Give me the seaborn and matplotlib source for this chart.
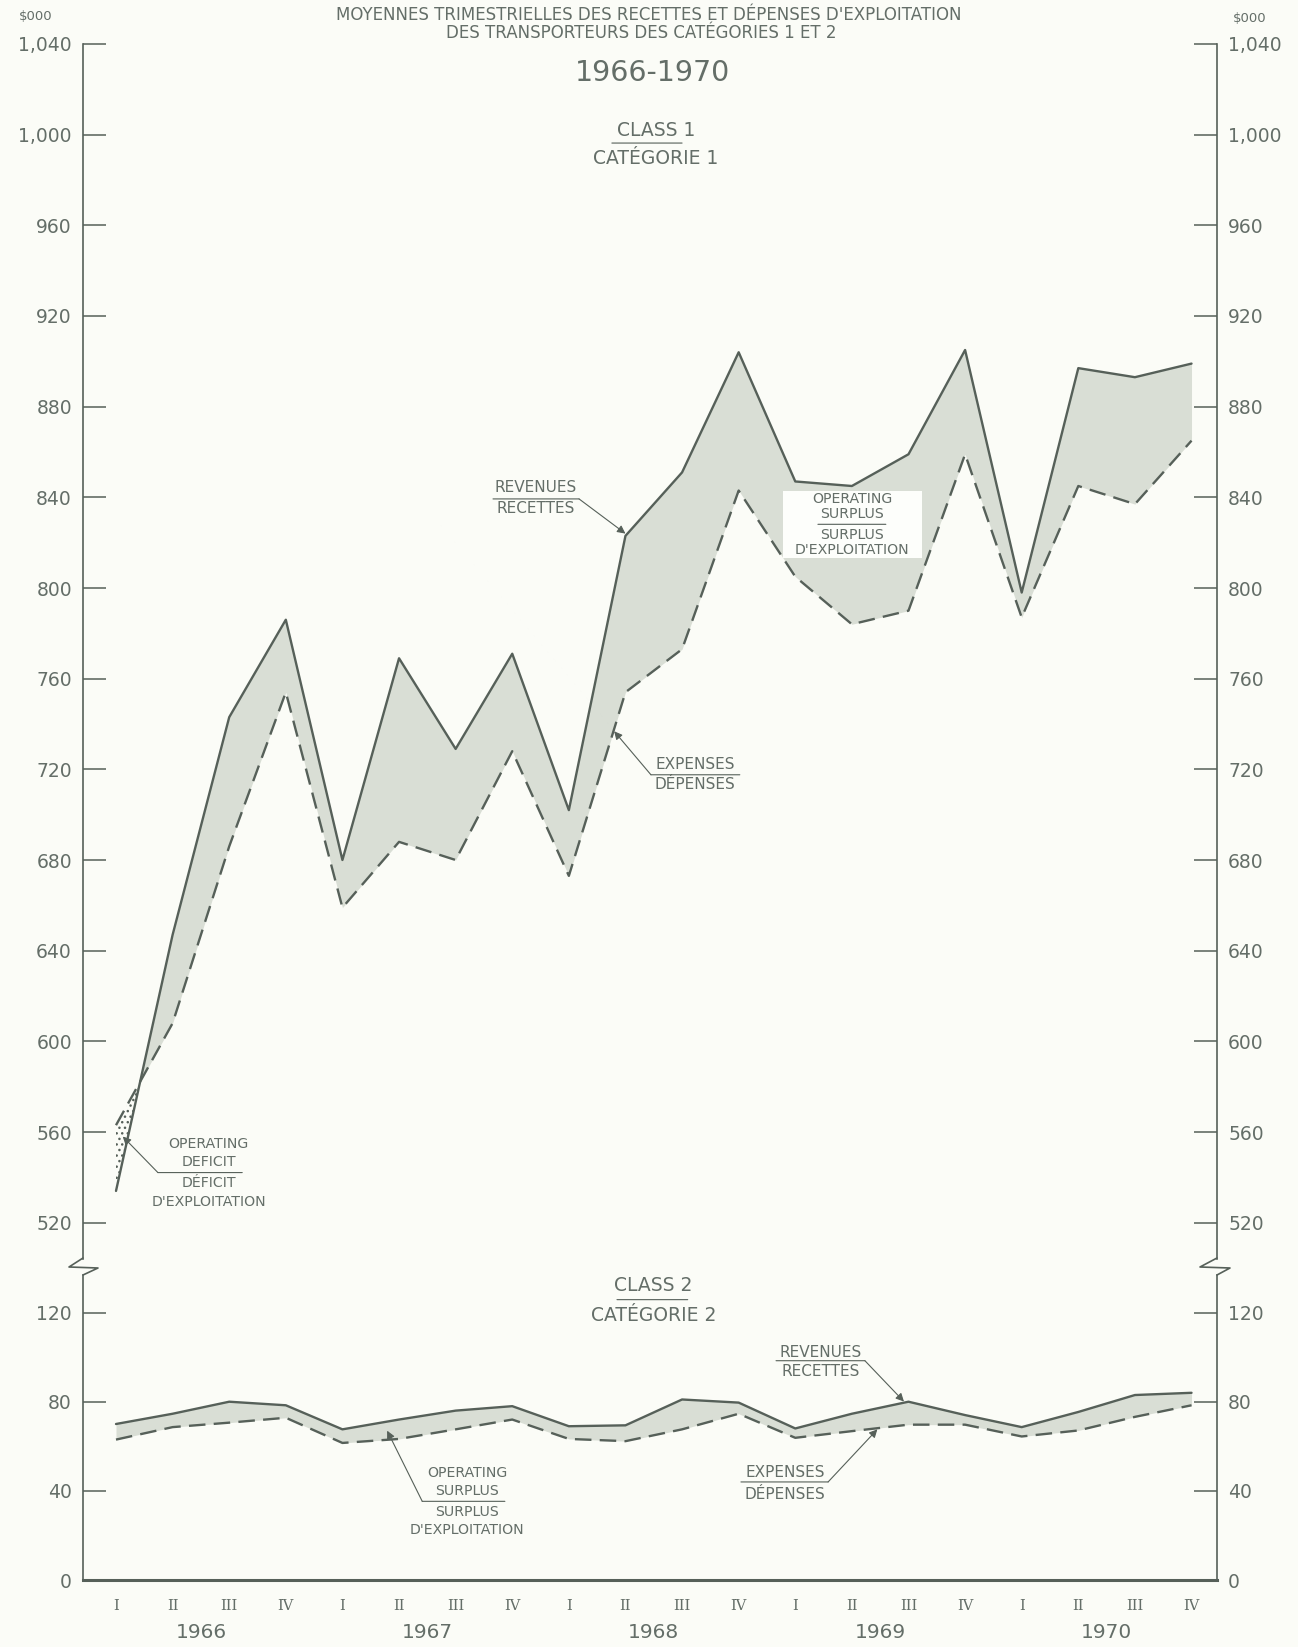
import numpy as np
import pandas as pd
import seaborn as sns
import matplotlib.pyplot as plt
from matplotlib.lines import Line2D
from matplotlib.patches import Rectangle

# quarterly averages, $000
quarters = ['I', 'II', 'III', 'IV'] * 5
years = ['1966', '1967', '1968', '1969', '1970']

class1_revenues = [534, 647, 743, 786, 680, 769, 729, 771, 702, 823,
                   851, 904, 847, 845, 859, 905, 798, 897, 893, 899]
class1_expenses = [563, 608, 686, 754, 659, 688, 680, 728, 673, 754,
                   773, 843, 805, 784, 790, 859, 787, 845, 837, 865]

class2_revenues = [70, 74.6, 80, 78.4, 67.6, 72, 76, 78, 69, 69.4,
                   81, 79.6, 68, 74.6, 80, 74, 68.6, 75.4, 83, 84]
class2_expenses = [63, 68.6, 70.6, 72.8, 61.5, 63.3, 67.6, 72, 63.3, 62.3,
                   67.6, 74.6, 63.8, 66.8, 69.7, 69.7, 64.4, 67.1, 73.2, 78.4]

upper_ticks = list(range(520, 1041, 40))
lower_ticks = [0, 40, 80, 120]

df = pd.DataFrame({
    'q': np.arange(len(quarters)),
    'rev1': class1_revenues, 'exp1': class1_expenses,
    'rev2': class2_revenues, 'exp2': class2_expenses,
})

BG = '#fbfcf7'
INK = '#566059'
TXT = '#646e68'
FILL = '#d9ded5'

sns.set_style("white")
plt.rcParams['font.family'] = ['DejaVu Sans']
plt.rcParams['axes.facecolor'] = BG
plt.rcParams['figure.facecolor'] = BG

W, H = 1298, 1647
fig = plt.figure(figsize=(W / 100, H / 100), dpi=100)

L, R = 83 / W, (1217 - 83) / W
ax1 = fig.add_axes([L, (H - 1268) / H, R, (1268 - 44) / H])
ax2 = fig.add_axes([L, (H - 1580) / H, R, (1580 - 1268) / H])

dash = (0, (7, 3.5))


def draw_band(ax, rev, exp):
    ax.fill_between(df['q'], df[rev], df[exp], where=df[rev] >= df[exp],
                    interpolate=True, color=FILL, lw=0)
    ax.fill_between(df['q'], df[rev], df[exp], where=df[rev] < df[exp],
                    interpolate=True, facecolor=BG, edgecolor=INK, hatch='...', lw=0)
    sns.lineplot(data=df, x='q', y=rev, ax=ax, color=INK, lw=1.7)
    sns.lineplot(data=df, x='q', y=exp, ax=ax, color=INK, lw=1.7, linestyle=dash)


draw_band(ax1, 'rev1', 'exp1')
draw_band(ax2, 'rev2', 'exp2')

for ax, lo, hi, ticks, bounds in [(ax1, 500, 1040, upper_ticks, (504, 1040)),
                                  (ax2, 0, 140, lower_ticks, (0, 137))]:
    ax.set_xlim(-0.583, 19.45)
    ax.set_ylim(lo, hi)
    ax.set_xlabel('')
    ax.set_ylabel('')
    ax.set_yticks(ticks)
    ax.set_yticklabels(['{:,}'.format(t) for t in ticks])
    ax.tick_params(axis='y', direction='in', length=16.5, width=1.1, color=INK,
                   left=True, right=True, labelleft=True, labelright=True,
                   labelcolor=TXT, labelsize=13.5, pad=8)
    ax.spines['top'].set_visible(False)
    for s in ['left', 'right']:
        ax.spines[s].set_color(INK)
        ax.spines[s].set_linewidth(1.2)
        ax.spines[s].set_bounds(*bounds)

ax1.spines['bottom'].set_visible(False)
ax1.set_xticks([])
ax2.spines['bottom'].set_color(INK)
ax2.spines['bottom'].set_linewidth(2.2)

# boundary ticks: small between quarters, tall between years
bounds_all = np.arange(0.5, 19, 1.0)
year_bounds = bounds_all[3::4]
ax2.set_xticks(year_bounds)
ax2.set_xticks([b for b in bounds_all if b not in year_bounds], minor=True)
ax2.tick_params(axis='x', which='major', direction='in', length=16.5, width=1.1,
                color=INK, labelbottom=False)
ax2.tick_params(axis='x', which='minor', direction='in', length=10, width=1.1,
                color=INK, labelbottom=False)

sec_q = ax2.secondary_xaxis('bottom')
sec_q.set_xticks(df['q'])
sec_q.set_xticklabels(quarters, family='DejaVu Serif', fontsize=10.5, color=TXT)
sec_q.tick_params(length=0, pad=14)
sec_q.spines['bottom'].set_visible(False)

sec_y = ax2.secondary_xaxis('bottom')
sec_y.set_xticks(np.arange(1.5, 20, 4))
sec_y.set_xticklabels(years, fontsize=14.5, color=TXT)
sec_y.tick_params(length=0, pad=31)
sec_y.spines['bottom'].set_visible(False)

# axis break marks
for pts in ([(83, 1258), (69, 1267), (98, 1268), (83, 1275)],
            [(1217, 1258), (1200, 1267), (1230, 1268), (1217, 1275)]):
    fig.add_artist(Line2D([p[0] / W for p in pts], [1 - p[1] / H for p in pts],
                          color=INK, lw=1.2))

# titles
fig.text(649 / W, 1 - 15 / H, "MOYENNES TRIMESTRIELLES DES RECETTES ET DÉPENSES D'EXPLOITATION",
         ha='center', va='center', fontsize=12, color=TXT)
fig.text(641 / W, 1 - 33 / H, "DES TRANSPORTEURS DES CATÉGORIES 1 ET 2",
         ha='center', va='center', fontsize=12, color=TXT)
fig.text(653 / W, 1 - 73 / H, "1966-1970", ha='center', va='center', fontsize=20.5, color=TXT)
fig.text(36 / W, 1 - 16 / H, "\\$000", ha='center', va='center', fontsize=9.5, color=TXT)
fig.text(1250 / W, 1 - 18 / H, "\\$000", ha='center', va='center', fontsize=9.5, color=TXT)

tk = dict(ha='center', va='center', fontsize=11, color=TXT)
tk_small = dict(ha='center', va='center', fontsize=10.2, color=TXT)
line = dict(arrowstyle='-', color=INK, lw=0.8, shrinkA=0, shrinkB=0)
arrow = dict(arrowstyle='-|>', color=INK, lw=0.8, shrinkA=0, shrinkB=0, mutation_scale=12)


def interp(col, x):
    return float(np.interp(x, df['q'], df[col]))


# class 1 labels
ax1.text(9.54, 1002, "CLASS 1", fontsize=13.5, ha='center', va='center', color=TXT)
ax1.annotate('', xy=(10.0, 996.3), xytext=(8.76, 996.3), arrowprops=line)
ax1.text(9.54, 989.5, "CATÉGORIE 1", fontsize=13.5, ha='center', va='center', color=TXT)

ax1.text(7.42, 844.2, "REVENUES", **tk)
ax1.text(7.42, 835.0, "RECETTES", **tk)
ax1.annotate('', xy=(8.18, 839.3), xytext=(6.66, 839.3), arrowprops=line)
ax1.annotate('', xy=(9, interp('rev1', 9) + 1), xytext=(8.18, 839.3), arrowprops=arrow)

ax1.text(10.23, 722.0, "EXPENSES", **tk)
ax1.text(10.23, 713.2, "DÉPENSES", **tk)
ax1.annotate('', xy=(11.02, 717.6), xytext=(9.45, 717.6), arrowprops=line)
ax1.annotate('', xy=(8.8, interp('exp1', 8.8) - 1), xytext=(9.45, 717.6), arrowprops=arrow)

ax1.add_patch(Rectangle((11.78, 813.3), 2.46, 29.6, facecolor='#fdfefb', edgecolor='none', zorder=3))
for y, s in [(839.4, "OPERATING"), (832.8, "SURPLUS"), (823.3, "SURPLUS"), (816.9, "D'EXPLOITATION")]:
    ax1.text(13.0, y, s, zorder=4, **tk_small)
ax1.annotate('', xy=(13.6, 828.1), xytext=(12.4, 828.1), arrowprops=line, zorder=4)

for y, s in [(554.6, "OPERATING"), (546.7, "DEFICIT"), (537.5, "DÉFICIT"), (529.1, "D'EXPLOITATION")]:
    ax1.text(1.64, y, s, **tk_small)
ax1.annotate('', xy=(2.23, 542.1), xytext=(0.74, 542.1), arrowprops=line)
ax1.annotate('', xy=(0.12, 558), xytext=(0.74, 542.1), arrowprops=arrow)

# class 2 labels
ax2.text(9.49, 132, "CLASS 2", fontsize=13.5, ha='center', va='center', color=TXT)
ax2.annotate('', xy=(10.1, 125.8), xytext=(8.85, 125.8), arrowprops=line)
ax2.text(9.49, 118.7, "CATÉGORIE 2", fontsize=13.5, ha='center', va='center', color=TXT)

ax2.text(12.44, 102, "REVENUES", **tk)
ax2.text(12.44, 93.5, "RECETTES", **tk)
ax2.annotate('', xy=(13.23, 98.4), xytext=(11.66, 98.4), arrowprops=line)
ax2.annotate('', xy=(13.92, interp('rev2', 13.92) + 0.5), xytext=(13.23, 98.4), arrowprops=arrow)

ax2.text(11.82, 48.1, "EXPENSES", **tk)
ax2.text(11.82, 38.2, "DÉPENSES", **tk)
ax2.annotate('', xy=(12.58, 44), xytext=(11.04, 44), arrowprops=line)
ax2.annotate('', xy=(13.45, interp('exp2', 13.45) - 0.5), xytext=(12.58, 44), arrowprops=arrow)

for y, s in [(48.1, "OPERATING"), (39.8, "SURPLUS"), (30.4, "SURPLUS"), (22.3, "D'EXPLOITATION")]:
    ax2.text(6.2, y, s, **tk_small)
ax2.annotate('', xy=(6.87, 35.3), xytext=(5.41, 35.3), arrowprops=line)
ax2.annotate('', xy=(4.79, (interp('rev2', 4.79) + interp('exp2', 4.79)) / 2),
             xytext=(5.41, 35.3), arrowprops=arrow)

fig.savefig('out.png', dpi=100, facecolor=BG)
